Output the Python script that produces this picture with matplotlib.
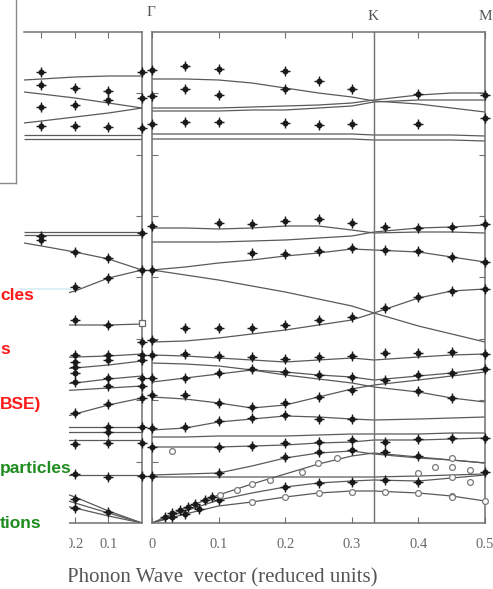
import matplotlib
matplotlib.use("Agg")
import matplotlib.pyplot as plt
from matplotlib.patches import Rectangle
from matplotlib.lines import Line2D
import numpy as np

# ---------------- data ----------------
# right panel: Gamma-K-M, reduced wave vector
Q = [0, 0.05, 0.1, 0.15, 0.2, 0.25, 0.3, 1/3, 0.4, 0.45, 0.5]
right_branches = {
    "A":   [444, 444, 443, 440, 435, 430, 426, 422, 419, 415, 411],
    "B":   [415, 415, 415, 416, 417, 418, 420, 423, 428, 430, 430],
    "C":   [412, 412, 412, 413, 413, 415, 417, 421, 423, 423, 423],
    "T1":  [389, 389, 389, 389, 389, 389, 389, 388, 388, 388, 387],
    "T2":  [384, 384, 384, 384, 384, 384, 384, 383, 383, 383, 382],
    "D":   [295, 295, 294, 295, 297, 297, 293, 290, 291, 291, 290],
    "E":   [281, 281, 281, 282, 283, 285, 287, 291, 295, 296, 298],
    "F":   [253, 256, 260, 263, 267, 270, 274, 273, 271, 266, 261],
    "G":   [253, 248, 243, 237, 231, 224, 217, 210, 197, 189, 181],
    "H":   [181, 182, 185, 189, 193, 198, 203, 210, 225, 232, 234],
    "a":   [168, 167, 165, 163, 161, 163, 165, 163, 166, 168, 169],
    "b":   [160, 159, 157, 153, 148, 144, 140, 136, 131, 125, 121],
    "c":   [141, 145, 149, 153, 151, 148, 146, 143, 147, 150, 154],
    "d":   [126, 124, 120, 115, 118, 126, 134, 138, 143, 147, 151],
    "e":   [93, 95, 101, 104, 107, 106, 104, 103, 104, 105, 106],
    "f":   [86, 86, 87, 87, 87, 88, 89, 89, 89, 90, 90],
    "g":   [76, 76, 76, 77, 78, 80, 81, 83, 83, 84, 85],
    "h":   [48, 49, 50, 57, 65, 70, 72, 69, 65, 63, 60],
    "i":   [46, 46, 46, 46, 46, 46, 46, 46, 47, 48, 49],
    "LA":  [0, 15, 28, 39, 49, 59, 67, 70, 66, 63, 60],
    "TA2": [0, 12, 23, 30, 36, 40, 42, 43, 42, 45, 48],
    "TA1": [0, 9, 17, 21, 26, 30, 32, 32, 30, 27, 22],
}

# left panel: Gamma-A direction (reversed)
QL = [0, 0.1, 0.2, 0.3, 0.352]
left_branches = {
    "LA1": [447, 447, 446, 444, 443],
    "LB":  [415, 420, 425, 429, 431],
    "LC":  [415, 410, 406, 402, 400],
    "LD1": [388, 388, 388, 388, 388],
    "LD2": [384, 384, 384, 384, 384],
    "M1":  [291, 291, 291, 291, 291],
    "M1b": [288, 288, 288, 288, 288],
    "M2":  [253, 264, 271, 277, 280],
    "M3":  [253, 245, 232, 223, 218],
    "N1":  [199, 198, 198, 198, 198],
    "N2":  [169, 167, 166, 165, 165],
    "N3":  [162, 158, 155, 153, 152],
    "N4":  [147, 144, 140, 137, 136],
    "N5":  [137, 135, 133, 131, 130],
    "N6":  [125, 118, 109, 100, 95],
    "N7":  [96, 96, 96, 96, 96],
    "N8":  [91, 91, 91, 91, 91],
    "N9":  [83, 83, 83, 83, 83],
    "N10": [48, 48, 48, 48, 48],
    "AL1": [0, 12, 26, 38, 44],
    "AL2": [0, 10, 20, 30, 35],
    "AL3": [0, 7, 15, 22, 26],
}

# experimental points, right panel (filled)
right_q_filled = [0, 0, 0, 0.05, 0.05, 0.05, 0.1, 0.1, 0.1, 0.2, 0.2, 0.2, 0.25, 0.25, 0.3, 0.3, 0.4, 0.4, 0.5, 0.5,
                  0, 0, 0.1, 0.15, 0.2, 0.25, 0.3, 0.35, 0.4, 0.45, 0.5,
                  0.15, 0.2, 0.25, 0.3, 0.35, 0.4, 0.45, 0.5,
                  0.35, 0.4, 0.45, 0.5, 0.3,
                  0.05, 0.1, 0.15, 0.2, 0.25,
                  0, 0, 0, 0, 0, 0, 0,
                  0.05, 0.1, 0.15, 0.2, 0.25, 0.3, 0.35, 0.4, 0.45, 0.5,
                  0.05, 0.1, 0.15, 0.2, 0.25, 0.3, 0.35, 0.4, 0.45, 0.5,
                  0.05, 0.1, 0.15, 0.2, 0.25, 0.3, 0.4, 0.45,
                  0.05, 0.1, 0.15, 0.2, 0.25, 0.3,
                  0.1, 0.15, 0.2, 0.25, 0.3, 0.35, 0.4, 0.45, 0.5,
                  0.1, 0.2, 0.25, 0.3, 0.35, 0.4,
                  0.1, 0.2, 0.25, 0.3, 0.35, 0.4, 0.5,
                  0.02, 0.03, 0.042, 0.054, 0.065, 0.08, 0.09, 0.03, 0.05, 0.07]
right_f_filled = [453, 427, 399, 457, 434, 401, 454, 428, 401, 452, 434, 400, 442, 398, 434, 399, 429, 399, 428, 405,
                  297, 253, 300, 299, 302, 304, 300, 296, 295, 296, 299,
                  270, 269, 272, 275, 273, 272, 266, 261,
                  215, 226, 232, 234, 206,
                  195, 195, 195, 198, 203,
                  183, 168, 145, 128, 95, 76, 47,
                  169, 167, 166, 164, 166, 167, 170, 170, 171, 169,
                  145, 150, 154, 151, 148, 146, 143, 148, 150, 154,
                  128, 120, 116, 120, 126, 133, 132, 125,
                  96, 102, 105, 108, 104, 104,
                  76, 77, 80, 81, 83, 81, 84, 85, 85,
                  50, 66, 71, 73, 71, 67,
                  23, 36, 40, 41, 43, 41, 51,
                  6, 10, 13, 16, 19, 23, 26, 6, 9, 14]
# open symbols, right panel
right_q_open = [0.15, 0.2, 0.25, 0.3, 0.35, 0.4, 0.45, 0.5,
                0.102, 0.128, 0.150, 0.177, 0.225, 0.249, 0.278,
                0.03, 0.425, 0.45, 0.45, 0.45, 0.477, 0.477, 0.45, 0.4]
right_f_open = [21, 26, 30, 31, 31, 30, 27, 22,
                28, 33, 39, 43, 51, 60, 65,
                72, 56, 65, 56, 46, 53, 41, 26, 50]

# experimental points, left panel
left_q_filled = [0.3, 0.3, 0.3, 0.3, 0.2, 0.2, 0.2, 0.1, 0.1, 0.1, 0, 0, 0,
                 0.3, 0.3, 0.2, 0.2, 0.1, 0.1, 0, 0,
                 0.2, 0.2, 0.2, 0.2, 0.2, 0.2, 0.2, 0.2, 0.2, 0.2, 0.2,
                 0.1, 0.1, 0.1, 0.1, 0.1, 0.1, 0.1, 0.1, 0.1, 0.1, 0.1,
                 0, 0, 0, 0, 0, 0, 0, 0, 0]
left_f_filled = [451, 438, 416, 397, 435, 418, 397, 432, 423, 396, 451, 425, 395,
                 287, 283, 271, 236, 265, 245, 290, 253,
                 203, 168, 161, 156, 150, 141, 110, 79, 49, 24, 15,
                 198, 168, 163, 145, 137, 119, 96, 91, 80, 46, 11,
                 181, 168, 163, 145, 137, 125, 96, 80, 47]
left_q_open = [0.0]
left_f_open = [200]

xtick_right = [0, 0.1, 0.2, 0.3, 0.4, 0.5]
xtick_right_labels = ["0", "0.1", "0.2", "0.3", "0.4", "0.5"]
xtick_left = [0.1, 0.2, 0.3]
xtick_left_labels = ["0.1", "0.2", "0.3"]
ytick_vals = [61.4, 122.8, 184.2, 245.6, 307.0, 368.4, 429.8]

side_labels = ["cles", "s", "BSE)", "particles", "tions"]
side_colors = ["#ff1a1a", "#ff1a1a", "#ff1a1a", "#1e8c1e", "#1e8c1e"]

# ---------------- drawing ----------------
W, H = 493, 589
fig = plt.figure(figsize=(W / 100, H / 100), dpi=100)
fig.patch.set_facecolor("white")

def fx(px):
    return px / W

def fy(py):
    return 1 - py / H

axL = fig.add_axes([fx(24), fy(523), (142 - 24) / W, 491 / H])
axR = fig.add_axes([fx(152), fy(523), (485 - 152) / W, 491 / H])

line_kw = dict(color="#5a5a5a", lw=0.9, solid_capstyle="butt")
spine_c = "#707070"
serif = ["Liberation Serif", "DejaVu Serif"]
tick_c = "#6a6a6a"

def dots(ax, q, f):
    ax.plot(q, f, "o", ms=3.3, color="#1a1a1a", clip_on=False, zorder=4)
    ax.plot(q, f, "+", ms=6.5, mew=1.0, color="#1a1a1a", clip_on=False, zorder=4)

def opens(ax, q, f):
    ax.plot(q, f, "o", ms=4.2, mfc="white", mec="#7a7a7a", mew=0.9, clip_on=False, zorder=4)

for name, vals in right_branches.items():
    axR.plot(Q, vals, **line_kw)
for name, vals in left_branches.items():
    axL.plot(QL, vals, **line_kw)

dots(axR, right_q_filled, right_f_filled)
opens(axR, right_q_open, right_f_open)
dots(axL, left_q_filled, left_f_filled)
axL.plot(left_q_open, left_f_open, "s", ms=4.5, mfc="white", mec="#6a6a6a", mew=0.9, clip_on=False, zorder=4)

axR.axvline(1 / 3, color=spine_c, lw=1.0)

axR.set_xlim(0, 0.5)
axL.set_xlim(0.352, 0)
for ax in (axL, axR):
    ax.set_ylim(0, 491)
    ax.set_facecolor("none")
    for s in ax.spines.values():
        s.set_color(spine_c)
        s.set_linewidth(1.1)
    ax.set_yticks(ytick_vals)
    ax.set_yticklabels([])
    ax.tick_params(axis="both", direction="in", length=4, width=0.8, color=spine_c,
                   top=True, bottom=True, left=True, right=True)
    ax.tick_params(axis="x", pad=11, labelsize=10.5, labelcolor=tick_c)
axL.spines["left"].set_visible(False)
axL.tick_params(axis="y", left=False)

axR.set_xticks(xtick_right)
axR.set_xticklabels(xtick_right_labels, family=serif)
axL.set_xticks(xtick_left)
axL.set_xticklabels(xtick_left_labels, family=serif)

# symmetry-point labels and axis title
fig.text(fx(151), fy(13), "Γ", family=serif, fontsize=11, color="#555555", ha="center", va="center")
fig.text(fx(373), fy(17), "K", family=serif, fontsize=11, color="#555555", ha="center", va="center")
fig.text(fx(485), fy(17), "M", family=serif, fontsize=11, color="#555555", ha="center", va="center")
fig.text(fx(222), fy(578), "Phonon Wave  vector (reduced units)", family=serif, fontsize=15,
         color="#555555", ha="center", va="center", zorder=3)

# overlapping slide elements: white text box and frame at top-left
fig.add_artist(Rectangle((0, 0), fx(69), fy(289), transform=fig.transFigure,
                         facecolor="white", edgecolor="none", zorder=5))
fig.add_artist(Line2D([fx(20), fx(72)], [fy(289), fy(289)], transform=fig.transFigure,
                      color="#d6eef3", lw=1.2, zorder=6))
fig.add_artist(Line2D([fx(16), fx(16)], [1, fy(183)], transform=fig.transFigure,
                      color="#8a8a8a", lw=1.0, zorder=6))
fig.add_artist(Line2D([0, fx(16)], [fy(183), fy(183)], transform=fig.transFigure,
                      color="#8a8a8a", lw=1.0, zorder=6))

label_y = [296, 350, 404, 469, 523]
for txt, col, py in zip(side_labels, side_colors, label_y):
    fig.text(0, fy(py), txt, family=["Liberation Sans", "DejaVu Sans"], fontweight="bold",
             fontsize=12.5, color=col, ha="left", va="center", zorder=7)

fig.savefig("out.png", dpi=100, facecolor="white")
